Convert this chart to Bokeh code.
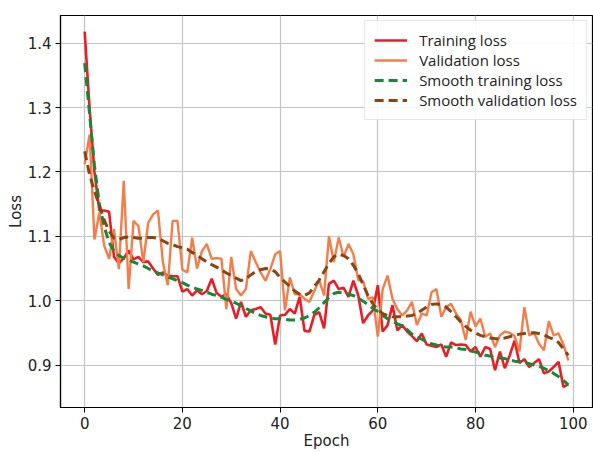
from bokeh.plotting import figure
from bokeh.models import Range1d, FixedTicker, Legend, LegendItem, PrintfTickFormatter
from bokeh.embed import file_html
from bokeh.resources import INLINE

epochs = list(range(100))

training_loss = [
    1.418, 1.300, 1.200, 1.140, 1.140, 1.138, 1.068, 1.058, 1.066, 1.078,
    1.064, 1.068, 1.060, 1.061, 1.050, 1.040, 1.044, 1.039, 1.038, 1.038,
    1.014, 1.018, 1.008, 1.016, 1.010, 1.015, 1.034, 1.012, 1.006, 1.010,
    0.996, 0.972, 0.998, 0.975, 0.985, 0.987, 0.990, 0.980, 0.978, 0.932,
    0.977, 0.978, 0.987, 0.980, 1.006, 0.953, 0.952, 0.978, 0.982, 0.957,
    1.026, 1.031, 1.018, 1.020, 1.006, 1.031, 1.008, 0.965, 0.977, 0.985,
    1.024, 0.952, 0.962, 0.993, 0.954, 0.962, 0.952, 0.945, 0.937, 0.949,
    0.932, 0.930, 0.928, 0.932, 0.913, 0.935, 0.931, 0.932, 0.931, 0.921,
    0.928, 0.913, 0.928, 0.925, 0.892, 0.921, 0.895, 0.915, 0.938, 0.903,
    0.909, 0.897, 0.903, 0.909, 0.887, 0.890, 0.897, 0.905, 0.866, 0.870,
]

validation_loss = [
    1.212, 1.258, 1.095, 1.137, 1.085, 1.065, 1.111, 1.049, 1.186, 1.018,
    1.124, 1.116, 1.060, 1.121, 1.134, 1.140, 1.060, 1.024, 1.124, 1.124,
    1.048, 1.044, 1.098, 1.050, 1.077, 1.088, 1.065, 1.066, 1.065, 0.987,
    1.068, 1.018, 1.008, 1.018, 1.077, 1.060, 1.044, 1.031, 1.049, 1.072,
    1.077, 0.985, 1.036, 1.010, 1.010, 1.003, 0.998, 1.015, 1.032, 1.008,
    1.100, 1.060, 1.098, 1.068, 1.088, 1.072, 1.032, 1.030, 1.003, 1.005,
    0.944, 1.018, 1.039, 1.003, 0.987, 0.977, 0.985, 0.998, 0.962, 0.980,
    0.977, 1.013, 1.018, 0.975, 0.990, 0.995, 0.980, 0.970, 0.939, 0.983,
    0.960, 0.972, 0.944, 0.949, 0.928, 0.946, 0.952, 0.950, 0.945, 0.921,
    0.990, 0.946, 0.950, 0.933, 0.923, 0.968, 0.946, 0.949, 0.932, 0.907,
]

smooth_training_loss = [
    1.369, 1.290, 1.210, 1.150, 1.115, 1.090, 1.077, 1.070, 1.066, 1.063,
    1.060, 1.057, 1.054, 1.050, 1.046, 1.043, 1.040, 1.037, 1.034, 1.031,
    1.028, 1.024, 1.021, 1.018, 1.016, 1.013, 1.010, 1.008, 1.005, 1.002,
    0.999, 0.996, 0.992, 0.988, 0.984, 0.980, 0.977, 0.975, 0.973, 0.972,
    0.972, 0.971, 0.970, 0.970, 0.971, 0.973, 0.977, 0.982, 0.989, 0.997,
    1.005, 1.011, 1.013, 1.012, 1.010, 1.008, 1.004, 0.999, 0.994, 0.988,
    0.983, 0.977, 0.972, 0.968, 0.964, 0.961, 0.955, 0.948, 0.944, 0.940,
    0.936, 0.933, 0.931, 0.929, 0.928, 0.928, 0.927, 0.925, 0.924, 0.922,
    0.920, 0.918, 0.915, 0.914, 0.912, 0.911, 0.910, 0.908, 0.906, 0.905,
    0.904, 0.902, 0.900, 0.898, 0.895, 0.891, 0.887, 0.882, 0.876, 0.869,
]

smooth_validation_loss = [
    1.232, 1.196, 1.170, 1.148, 1.125, 1.108, 1.097, 1.095, 1.098, 1.099,
    1.098, 1.097, 1.097, 1.098, 1.098, 1.097, 1.093, 1.089, 1.087, 1.084,
    1.082, 1.080, 1.075, 1.070, 1.065, 1.060, 1.056, 1.052, 1.048, 1.043,
    1.039, 1.035, 1.031, 1.034, 1.040, 1.045, 1.048, 1.050, 1.049, 1.045,
    1.036, 1.029, 1.022, 1.015, 1.010, 1.008, 1.012, 1.022, 1.032, 1.045,
    1.058, 1.068, 1.072, 1.070, 1.065, 1.055, 1.042, 1.025, 1.008, 0.995,
    0.986, 0.980, 0.977, 0.975, 0.975, 0.975, 0.976, 0.977, 0.980, 0.985,
    0.990, 0.994, 0.995, 0.993, 0.990, 0.983, 0.975, 0.967, 0.960, 0.954,
    0.950, 0.946, 0.944, 0.942, 0.941, 0.941, 0.942, 0.944, 0.946, 0.948,
    0.949, 0.950, 0.950, 0.949, 0.947, 0.943, 0.940, 0.935, 0.925, 0.915,
]

x_ticks = [0, 20, 40, 60, 80, 100]
y_ticks = [0.9, 1.0, 1.1, 1.2, 1.3, 1.4]

p = figure(width=593, height=452, output_backend="svg", toolbar_location=None,
           x_range=Range1d(-4.95, 103.95), y_range=Range1d(0.834, 1.443),
           min_border_left=60, min_border_right=1, min_border_top=15, min_border_bottom=43)

p.background_fill_color = "white"
p.border_fill_color = "white"
p.outline_line_color = "black"
p.outline_line_width = 1.2

for ax in (p.xaxis[0], p.yaxis[0]):
    ax.axis_line_color = "black"
    ax.axis_line_width = 1.2
    ax.major_tick_line_color = "black"
    ax.major_tick_out = 5
    ax.major_tick_in = 0
    ax.minor_tick_line_color = None
    ax.major_label_text_font = "DejaVu Sans"
    ax.major_label_text_font_size = "15px"
    ax.major_label_text_color = "#222222"
    ax.axis_label_text_font = "DejaVu Sans"
    ax.axis_label_text_font_size = "15px"
    ax.axis_label_text_font_style = "normal"
    ax.axis_label_text_color = "#222222"
    ax.major_label_standoff = 4
    ax.axis_label_standoff = 0

p.xaxis.ticker = FixedTicker(ticks=x_ticks)
p.yaxis.ticker = FixedTicker(ticks=y_ticks)
p.yaxis.formatter = PrintfTickFormatter(format="%.1f")
p.xaxis.axis_label = "Epoch"
p.yaxis.axis_label = "Loss"

p.xgrid.ticker = FixedTicker(ticks=x_ticks)
p.ygrid.ticker = FixedTicker(ticks=y_ticks)
for g in (p.xgrid[0], p.ygrid[0]):
    g.grid_line_color = "#c4c4c4"
    g.grid_line_width = 1.2

r1 = p.line(epochs, training_loss, line_color="#ec1c24", line_width=2.6)
r2 = p.line(epochs, validation_loss, line_color="#f47d4a", line_width=2.4)
r3 = p.line(epochs, smooth_training_loss, line_color="#138a36", line_width=3,
            line_dash="9 5")
r4 = p.line(epochs, smooth_validation_loss, line_color="#8b4513", line_width=3,
            line_dash="9 5")

legend = Legend(items=[
    LegendItem(label="Training loss", renderers=[r1]),
    LegendItem(label="Validation loss", renderers=[r2]),
    LegendItem(label="Smooth training loss", renderers=[r3]),
    LegendItem(label="Smooth validation loss", renderers=[r4]),
], location="top_right")
legend.label_text_font = "Open Sans"
legend.label_text_font_size = "15px"
legend.label_text_color = "#222222"
legend.border_line_color = "#cccccc"
legend.border_line_width = 1
legend.background_fill_alpha = 0.9
legend.glyph_width = 33
legend.glyph_height = 16
legend.label_height = 16
legend.label_standoff = 12
legend.spacing = 0
legend.padding = 9
legend.margin = 5
p.add_layout(legend)

open("out.html", "w").write(file_html(p, INLINE))
